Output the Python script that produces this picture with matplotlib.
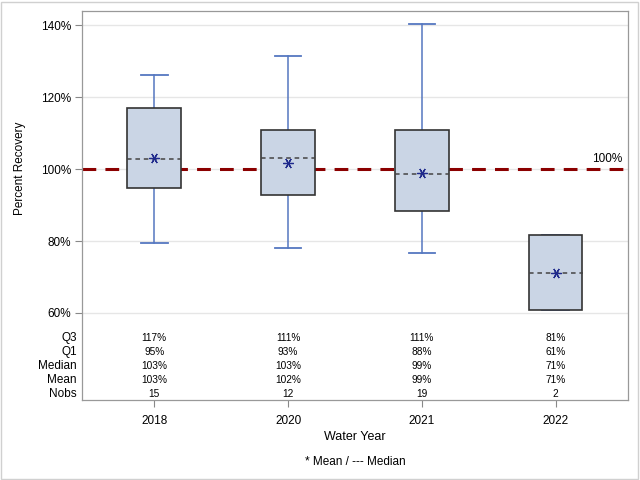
import matplotlib
matplotlib.use("Agg")
import matplotlib.pyplot as plt
from matplotlib.patches import Rectangle

years = ["2018", "2020", "2021", "2022"]
whisk_low = [79.5, 78.0, 76.6, 60.75]
q1 = [94.8, 92.9, 88.4, 60.75]
median = [102.9, 103.2, 98.7, 71.2]
mean = [103.1, 101.6, 98.9, 71.2]
q3 = [117.1, 110.9, 110.8, 81.7]
whisk_high = [126.1, 131.4, 140.3, 81.7]

tbl_q3 = ["117%", "111%", "111%", "81%"]
tbl_q1 = ["95%", "93%", "88%", "61%"]
tbl_median = ["103%", "103%", "99%", "71%"]
tbl_mean = ["103%", "102%", "99%", "71%"]
tbl_nobs = ["15", "12", "19", "2"]

yticks = [60, 80, 100, 120, 140]
ref_value = 100

plt.rcParams['font.family'] = ['Liberation Sans', 'DejaVu Sans']

fig = plt.figure(figsize=(6.4, 4.8), dpi=100)
W, H = 640, 480
ax = fig.add_axes([82 / W, 1 - 400 / H, (628 - 82) / W, (400 - 11) / H])

# outer border
fig.patches.append(Rectangle((1 / W, 1 / H), 637 / W, 477 / H, transform=fig.transFigure,
                             fill=False, edgecolor="#d0d0d0", lw=1))

ymin, ymax = 35.8, 144.0
ax.set_ylim(ymin, ymax)
ax.set_xlim(-0.54, 3.54)

for y in yticks:
    ax.axhline(y, color="#e6e6e6", lw=1, zorder=0)

ax.axhline(ref_value, color="#8b0000", lw=2.2, ls=(0, (4.5, 3)), zorder=1)
ax.text(3.5, ref_value + 1.2, "100%", ha="right", va="bottom", fontsize=8.5)

bw = 0.40
cw = 0.20
wcol = "#5577c0"
for i in range(len(years)):
    # whiskers
    ax.plot([i, i], [q3[i], whisk_high[i]], color=wcol, lw=1.1, zorder=2)
    ax.plot([i, i], [whisk_low[i], q1[i]], color=wcol, lw=1.1, zorder=2)
    ax.plot([i - cw / 2, i + cw / 2], [whisk_high[i]] * 2, color=wcol, lw=1.3, zorder=2)
    ax.plot([i - cw / 2, i + cw / 2], [whisk_low[i]] * 2, color=wcol, lw=1.3, zorder=2)
    ax.add_patch(Rectangle((i - bw / 2, q1[i]), bw, q3[i] - q1[i], facecolor="#cad5e5",
                           edgecolor="#333333", lw=1.2, zorder=3))
    ax.plot([i - bw / 2, i + bw / 2], [median[i]] * 2, color="#444444", lw=1.1,
            ls=(0, (3, 2.5)), zorder=4)
    ax.plot([i], [mean[i]], marker=(6, 2, 90), color="#1f2a8c", ms=7.5, mew=0.9, zorder=5)

ax.set_yticks(yticks)
ax.set_yticklabels([f"{v}%" for v in yticks], fontsize=8.5)
ax.set_xticks(range(len(years)))
ax.set_xticklabels(years, fontsize=8.5)
ax.tick_params(axis="both", color="#888888", length=5, width=0.8, pad=3)
ax.tick_params(axis="x", pad=6)
for s in ax.spines.values():
    s.set_color("#999999")
    s.set_linewidth(0.9)

# table
rows = [("Q3", tbl_q3, 338), ("Q1", tbl_q1, 352), ("Median", tbl_median, 366),
        ("Mean", tbl_mean, 380), ("Nobs", tbl_nobs, 394)]
for label, vals, ypx in rows:
    yf = 1 - ypx / H
    fig.text(77 / W, yf, label, ha="right", va="center", fontsize=8.5)
    for i, v in enumerate(vals):
        xd = ax.transData.transform((i, 0))[0]
        fig.text(xd / W, yf, v, ha="center", va="center", fontsize=7.3)

fig.text(20 / W, 1 - 168 / H, "Percent Recovery", rotation=90, ha="center", va="center", fontsize=8.5)
fig.text(355 / W, 1 - 437 / H, "Water Year", ha="center", va="center", fontsize=9)
fig.text(355 / W, 1 - 462 / H, "* Mean / --- Median", ha="center", va="center", fontsize=8.5)

fig.savefig("out.png", dpi=100)
